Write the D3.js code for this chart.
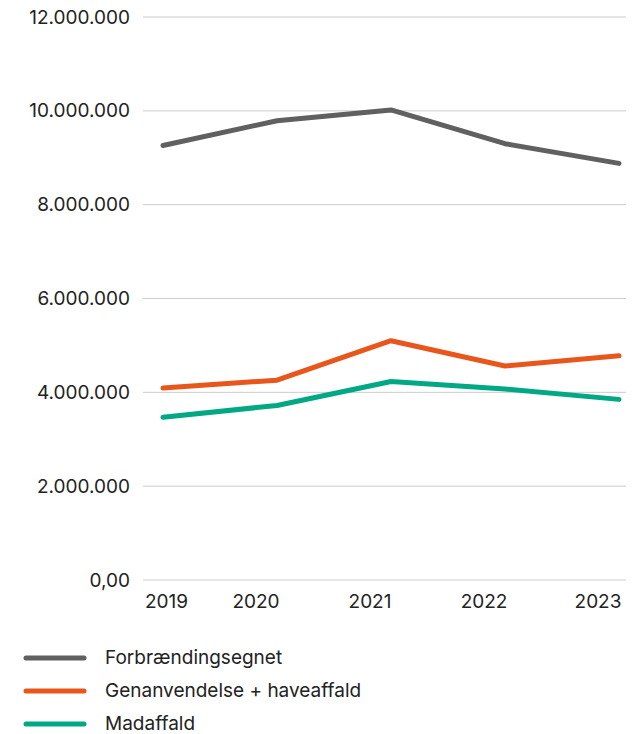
<!DOCTYPE html>
<html><head><meta charset="utf-8">
<script src="https://cdn.jsdelivr.net/npm/d3@7/dist/d3.min.js"></script>
<style>
html,body{margin:0;padding:0;background:#fff;}
text{font-family:Inter,"Noto Sans",sans-serif;fill:#222;font-weight:400;}
</style></head>
<body>
<svg id="c" width="635" height="734"></svg>
<script>
const years = ["2019","2020","2021","2022","2023"];
const forbraending = [9260000, 9790000, 10020000, 9300000, 8880000];
const genanvendelse = [4090000, 4260000, 5100000, 4560000, 4780000];
const madaffald = [3470000, 3720000, 4230000, 4070000, 3850000];
const yTicks = [0, 2000000, 4000000, 6000000, 8000000, 10000000, 12000000];
const seriesNames = ["Forbrændingsegnet", "Genanvendelse + haveaffald", "Madaffald"];
const seriesColors = ["#606060", "#e8561c", "#00a884"];
const seriesData = [forbraending, genanvendelse, madaffald];

const svg = d3.select("#c");
const plotL = 143, plotR = 626, plotT = 17, plotB = 580;
const y = d3.scaleLinear().domain([0, 12000000]).range([plotB, plotT]);
const xLab = d3.scalePoint().domain(years).range([142, 598]);
const lineOffset = 21;
const fs = 19;

const fmt = v => v === 0 ? "0,00" : d3.format(",")(v).replace(/,/g, ".");

// gridlines
svg.append("g").selectAll("line").data(yTicks).join("line")
  .attr("x1", plotL).attr("x2", plotR)
  .attr("y1", d => y(d)).attr("y2", d => y(d))
  .attr("stroke", "#cccccc").attr("stroke-width", 1);

// y labels
svg.append("g").selectAll("text").data(yTicks).join("text")
  .attr("x", 130).attr("y", d => y(d)).attr("dy", "0.35em")
  .attr("text-anchor", "end").attr("font-size", fs)
  .text(fmt);

// x labels
svg.append("g").selectAll("text").data(years).join("text")
  .attr("x", (d, i) => i === 0 ? 145 : xLab(d))
  .attr("y", 608)
  .attr("text-anchor", (d, i) => i === 0 ? "start" : "middle")
  .attr("font-size", fs)
  .text(d => d);

// lines
const line = d3.line().x((d, i) => xLab(years[i]) + lineOffset).y(d => y(d));
svg.append("g").selectAll("path").data(seriesData).join("path")
  .attr("d", d => line(d))
  .attr("fill", "none")
  .attr("stroke", (d, i) => seriesColors[i])
  .attr("stroke-width", 5)
  .attr("stroke-linecap", "round")
  .attr("stroke-linejoin", "round");

// legend
const leg = svg.append("g").selectAll("g").data(seriesNames).join("g")
  .attr("transform", (d, i) => `translate(0, ${658 + i * 33})`);
leg.append("line").attr("x1", 26).attr("x2", 84).attr("y1", 0).attr("y2", 0)
  .attr("stroke", (d, i) => seriesColors[i]).attr("stroke-width", 5).attr("stroke-linecap", "round");
leg.append("text").attr("x", 105).attr("y", 0).attr("dy", "0.3em")
  .attr("font-size", fs).text(d => d);
</script>
</body></html>
